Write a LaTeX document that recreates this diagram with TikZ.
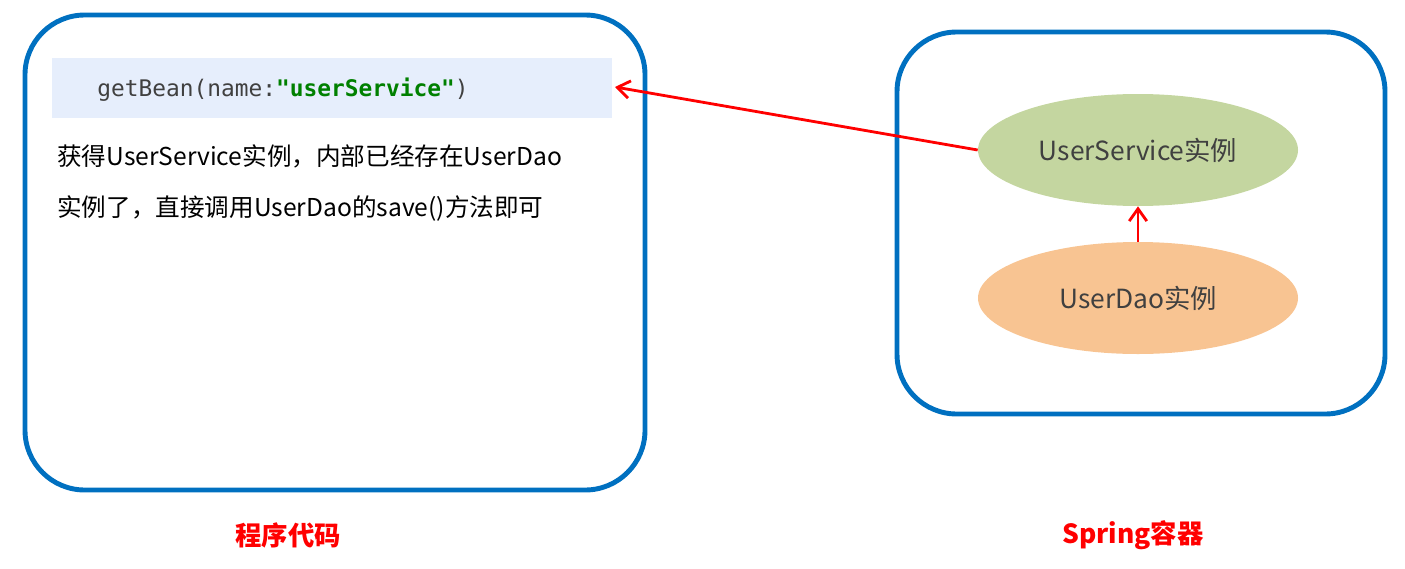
\documentclass[tikz,border=0pt]{standalone}
\usepackage{fontspec}
\setmainfont{Noto Sans CJK SC}
\newfontfamily\cjk{Noto Sans CJK SC}
\setmonofont{DejaVu Sans Mono}
\usetikzlibrary{arrows.meta}
\definecolor{bblue}{RGB}{0,112,192}
\definecolor{codebg}{RGB}{230,238,252}
\definecolor{sgreen}{RGB}{196,214,160}
\definecolor{sorange}{RGB}{248,196,146}
\definecolor{cgreen}{RGB}{0,128,0}
\definecolor{tgray}{RGB}{64,64,64}
\tikzset{
  panel/.style={draw=bblue,line width=2.8pt,rounded corners=34pt},
  bean/.style={ellipse,minimum width=320*0.02cm,minimum height=112*0.02cm,inner sep=0pt,font=\fontsize{15}{18}\selectfont,text=tgray},
  redarrow/.style={draw=red,line width=1.6pt,-{Straight Barb[length=7pt,width=10pt]}},
  caption/.style={font=\fontsize{15}{18}\selectfont\bfseries,text=red}
}
\usetikzlibrary{shapes.geometric}
\begin{document}
\begin{tikzpicture}[x=0.02cm,y=-0.02cm]
\useasboundingbox (0,0) rectangle (1405,568);
\draw[panel] (25,15) rectangle (645,490);
\draw[panel] (897,32) rectangle (1385,414);
\fill[codebg] (52,58) rectangle (612,118);
\node[anchor=west,inner sep=0pt,font=\fontsize{13}{16}\selectfont\ttfamily,text=tgray] (code) at (97,90) {getBean(name:\textcolor{cgreen}{\bfseries"userService"})};
\coordinate (codeend) at (615,87);
\node[anchor=west,inner sep=0pt,align=left,font=\fontsize{14}{28.5}\selectfont] (desc) at (57,183) {获得UserService实例，内部已经存在UserDao\\实例了，直接调用UserDao的save()方法即可};
\node[bean,fill=sgreen] (svc) at (1138,150) {UserService实例};
\node[bean,fill=sorange] (dao) at (1138,298) {UserDao实例};
\draw[redarrow] (dao.north) -- (svc.south);
\draw[redarrow] (svc.west) -- (codeend);
\node[caption] (c1) at (288,535) {程序代码};
\node[caption] (c2) at (1133,535) {Spring容器};
\end{tikzpicture}
\end{document}
